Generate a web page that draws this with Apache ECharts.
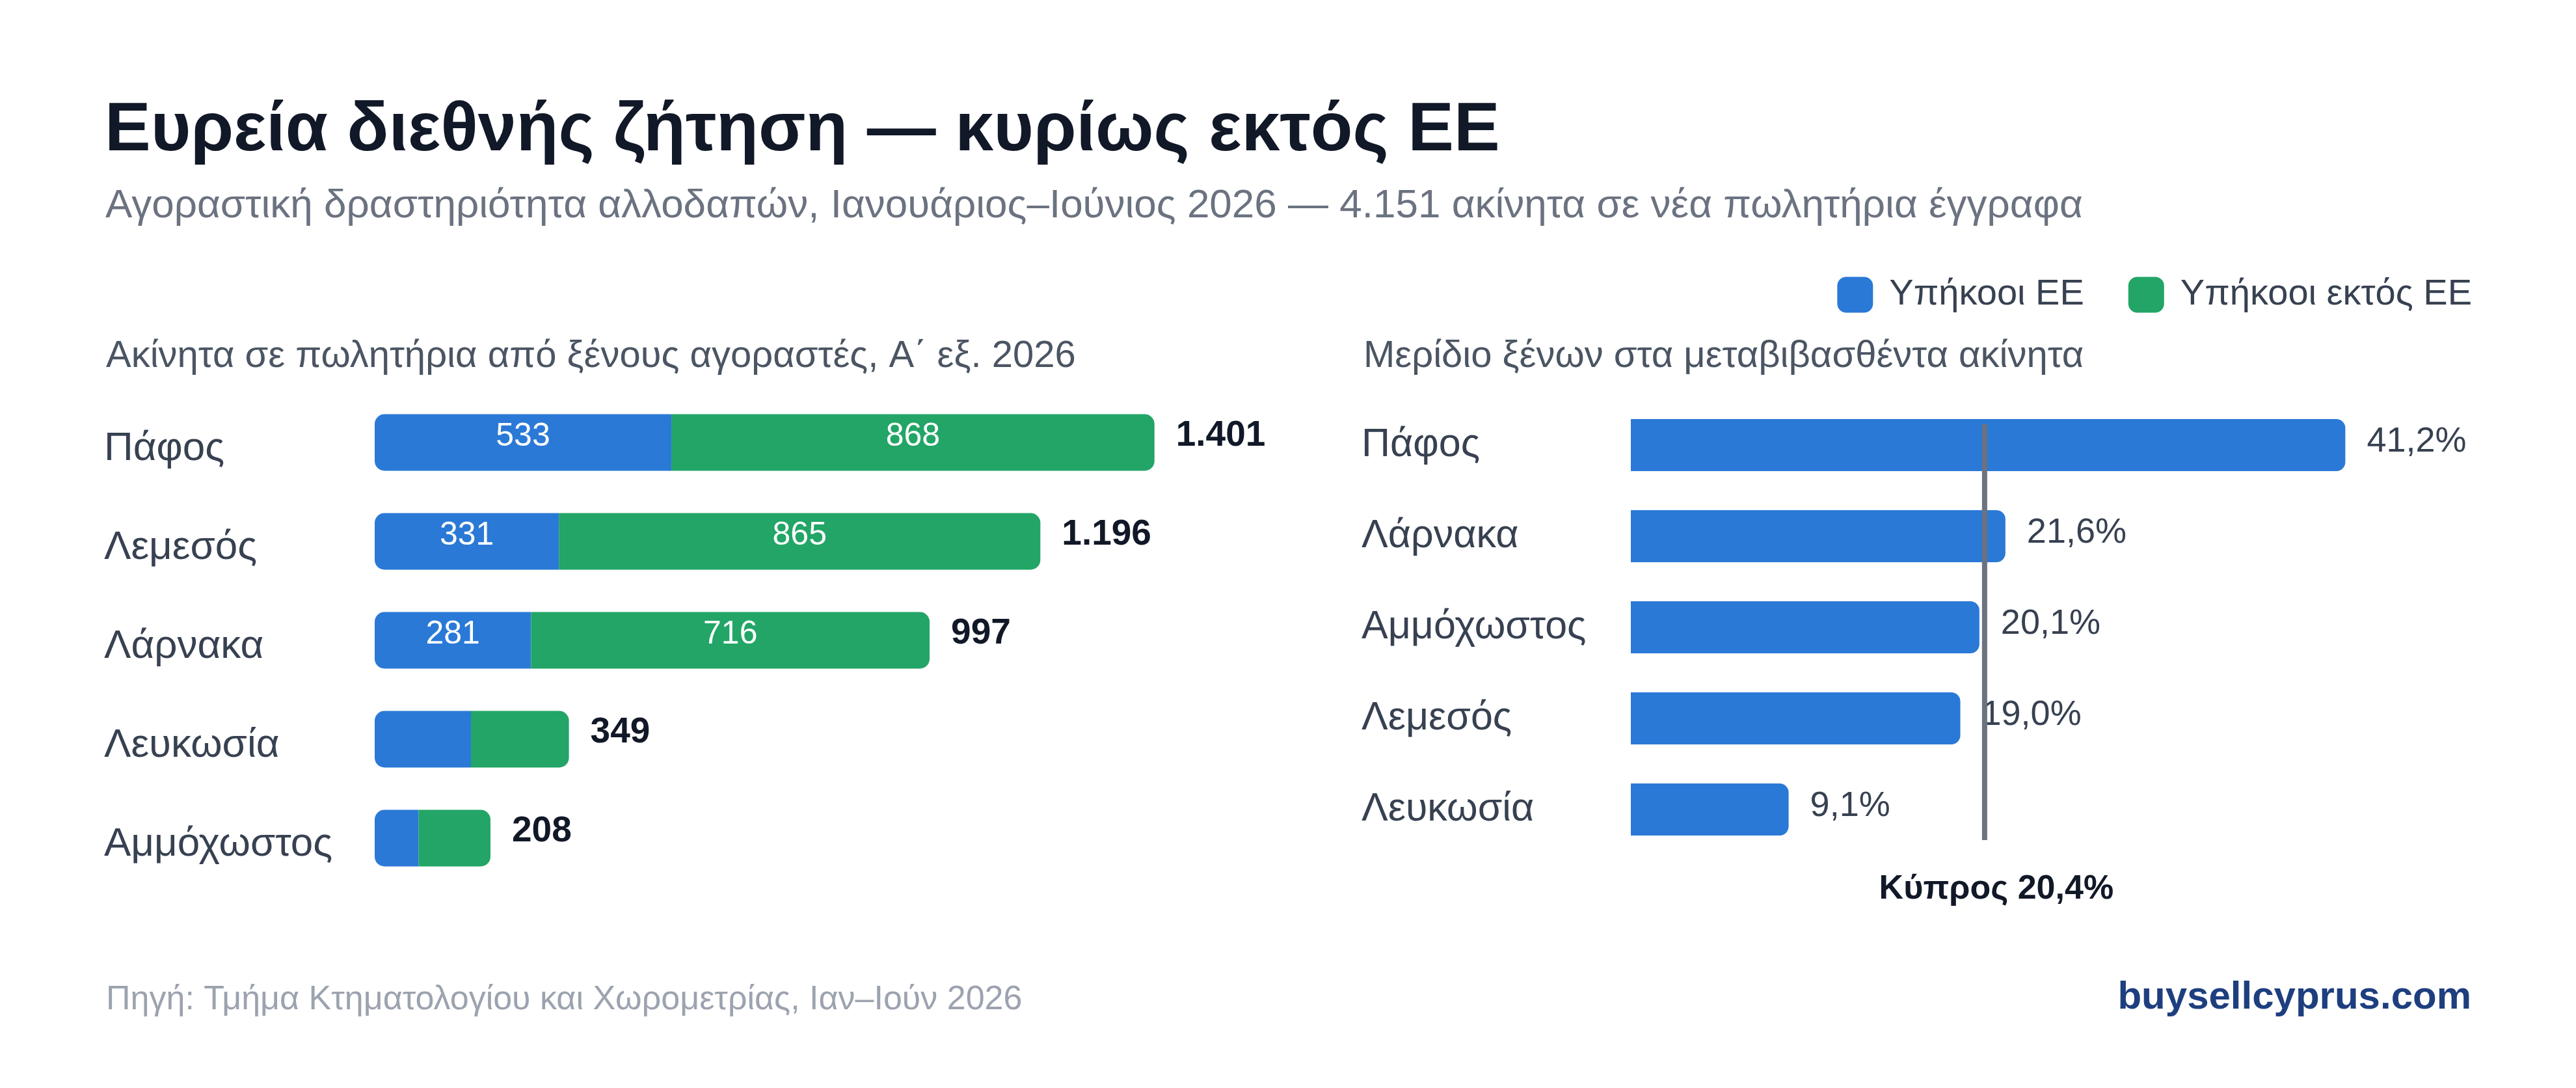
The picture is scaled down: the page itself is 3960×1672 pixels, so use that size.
<!DOCTYPE html>
<html>
<head>
<meta charset="utf-8">
<title>Ευρεία διεθνής ζήτηση</title>
<script src="https://cdn.jsdelivr.net/npm/echarts@6/dist/echarts.min.js"></script>
<style>
    html, body { margin: 0; padding: 0; background: #ffffff; }
    #chart { width: 3960px; height: 1672px; }
</style>
</head>
<body>
<div id="chart"></div>
<script>
// left panel: properties in sale contracts by foreign buyers
const salesRegions = ['Πάφος', 'Λεμεσός', 'Λάρνακα', 'Λευκωσία', 'Αμμόχωστος'];
const euBuyers = [533, 331, 281, 173, 79];
const nonEuBuyers = [868, 865, 716, 176, 129];

// right panel: foreign share of transferred properties (%)
const shareRegions = ['Πάφος', 'Λάρνακα', 'Αμμόχωστος', 'Λεμεσός', 'Λευκωσία'];
const foreignShare = [41.2, 21.6, 20.1, 19.0, 9.1];
const cyprusShare = 20.4;

const seriesNames = ['Υπήκοοι ΕΕ', 'Υπήκοοι εκτός ΕΕ'];

const FONT = '"Liberation Sans", Arial, sans-serif';
const BLUE = '#2a79d6',
      GREEN = '#22a566';

const totals = euBuyers.map((v, i) => v + nonEuBuyers[i]);

function fmtInt(n) {
    return String(n).replace(/\B(?=(\d{3})+(?!\d))/g, '.');
}

function fmtPct(v) {
    return v.toFixed(1).replace('.', ',') + '%';
}

const chart = echarts.init(document.getElementById('chart'));

const insideLabel = {
    show: true,
    position: 'inside',
    color: '#ffffff',
    fontSize: 50,
    fontFamily: FONT,
    offset: [0, -9],
    formatter: p => p.value >= 200 ? fmtInt(p.value) : ''
};

const options = {
    backgroundColor: '#ffffff',
    animation: false,
    textStyle: { fontFamily: FONT },
    title: [
        {
            text: 'Ευρεία διεθνής ζήτηση — κυρίως εκτός ΕΕ',
            left: 156, top: 144,
            textStyle: { fontSize: 106, fontWeight: 'bold', color: '#111827', fontFamily: FONT }
        },
        {
            text: 'Αγοραστική δραστηριότητα αλλοδαπών, Ιανουάριος–Ιούνιος 2026 — 4.151 ακίνητα σε νέα πωλητήρια έγγραφα',
            left: 157, top: 281,
            textStyle: { fontSize: 62, fontWeight: 'normal', color: '#6b7280', fontFamily: FONT }
        },
        {
            text: 'Ακίνητα σε πωλητήρια από ξένους αγοραστές, Α΄ εξ. 2026',
            left: 158, top: 514,
            textStyle: { fontSize: 58, fontWeight: 'normal', color: '#4b5563', fontFamily: FONT }
        },
        {
            text: 'Μερίδιο ξένων στα μεταβιβασθέντα ακίνητα',
            left: 2091, top: 514,
            textStyle: { fontSize: 58, fontWeight: 'normal', color: '#4b5563', fontFamily: FONT }
        },
        {
            text: 'Πηγή: Τμήμα Κτηματολογίου και Χωρομετρίας, Ιαν–Ιούν 2026',
            left: 158, top: 1506,
            textStyle: { fontSize: 52, fontWeight: 'normal', color: '#9ca3af', fontFamily: FONT }
        },
        {
            text: 'buysellcyprus.com',
            right: 156, top: 1498,
            textStyle: { fontSize: 60, fontWeight: 'bold', color: '#1e3f7f', fontFamily: FONT }
        }
    ],
    legend: {
        data: seriesNames,
        right: 155,
        top: 420,
        icon: 'roundRect',
        itemWidth: 55,
        itemHeight: 55,
        itemGap: 68,
        selectedMode: false,
        textStyle: {
            fontSize: 56,
            color: '#374151',
            fontFamily: FONT,
            padding: [0, 0, 0, 20]
        }
    },
    grid: [
        { left: 576, top: 604, width: 1369, height: 760 },
        { left: 2507, top: 614, width: 1333, height: 700 }
    ],
    xAxis: [
        { gridIndex: 0, type: 'value', min: 0, max: 1600, show: false },
        { gridIndex: 1, type: 'value', min: 0, max: 50, show: false }
    ],
    yAxis: [
        {
            gridIndex: 0,
            type: 'category',
            data: salesRegions,
            inverse: true,
            axisLine: { show: false },
            axisTick: { show: false },
            axisLabel: {
                align: 'left',
                margin: 416,
                formatter: v => '{name|' + v + '}',
                rich: {
                    name: {
                        fontSize: 62,
                        color: '#374151',
                        fontFamily: FONT,
                        padding: [20, 0, 0, 0]
                    }
                }
            }
        },
        {
            gridIndex: 1,
            type: 'category',
            data: shareRegions,
            inverse: true,
            axisLine: { show: false },
            axisTick: { show: false },
            axisLabel: {
                align: 'left',
                margin: 414,
                fontSize: 61,
                color: '#374151',
                fontFamily: FONT
            }
        }
    ],
    series: [
        {
            name: seriesNames[0],
            type: 'bar',
            stack: 'buyers',
            xAxisIndex: 0,
            yAxisIndex: 0,
            barWidth: 87,
            data: euBuyers,
            itemStyle: { color: BLUE, borderRadius: [15, 0, 0, 15] },
            label: insideLabel
        },
        {
            name: seriesNames[1],
            type: 'bar',
            stack: 'buyers',
            xAxisIndex: 0,
            yAxisIndex: 0,
            barWidth: 87,
            data: nonEuBuyers,
            itemStyle: { color: GREEN, borderRadius: [0, 15, 15, 0] },
            label: insideLabel
        },
        {
            name: 'Σύνολο',
            type: 'bar',
            xAxisIndex: 0,
            yAxisIndex: 0,
            barWidth: 87,
            barGap: '-100%',
            silent: true,
            data: totals,
            itemStyle: { color: 'rgba(0,0,0,0)' },
            label: {
                show: true,
                position: 'right',
                distance: 33,
                offset: [0, -10],
                fontSize: 55,
                fontWeight: 'bold',
                color: '#111827',
                fontFamily: FONT,
                formatter: p => fmtInt(p.value)
            }
        },
        {
            name: 'Μερίδιο',
            type: 'bar',
            xAxisIndex: 1,
            yAxisIndex: 1,
            barWidth: 80,
            data: foreignShare,
            itemStyle: { color: BLUE, borderRadius: [0, 14, 14, 0] },
            label: {
                show: true,
                position: 'right',
                distance: 33,
                offset: [0, -5],
                fontSize: 54,
                color: '#374151',
                fontFamily: FONT,
                formatter: p => fmtPct(p.value)
            }
        },
        {
            name: 'Κύπρος',
            type: 'custom',
            xAxisIndex: 1,
            yAxisIndex: 1,
            clip: false,
            silent: true,
            z: 5,
            data: [[cyprusShare]],
            renderItem: (params, api) => {
                const x = api.coord([api.value(0), 0])[0],
                      yTop = api.coord([0, 0])[1] - 32,
                      yBottom = api.coord([0, shareRegions.length - 1])[1] + 47;
                return {
                    type: 'group',
                    children: [
                        {
                            type: 'line',
                            shape: { x1: x, y1: yTop, x2: x, y2: yBottom },
                            style: { stroke: '#6b7280', lineWidth: 8 }
                        },
                        {
                            type: 'text',
                            x: x + 18,
                            y: yBottom + 76,
                            style: {
                                text: 'Κύπρος ' + fmtPct(api.value(0)),
                                fontSize: 52,
                                fontWeight: 'bold',
                                fontFamily: FONT,
                                fill: '#111827',
                                align: 'center',
                                verticalAlign: 'middle'
                            }
                        }
                    ]
                };
            }
        }
    ]
};

chart.setOption(options);
window.addEventListener('resize', () => {
    chart.resize();
});
</script>
</body>
</html>
